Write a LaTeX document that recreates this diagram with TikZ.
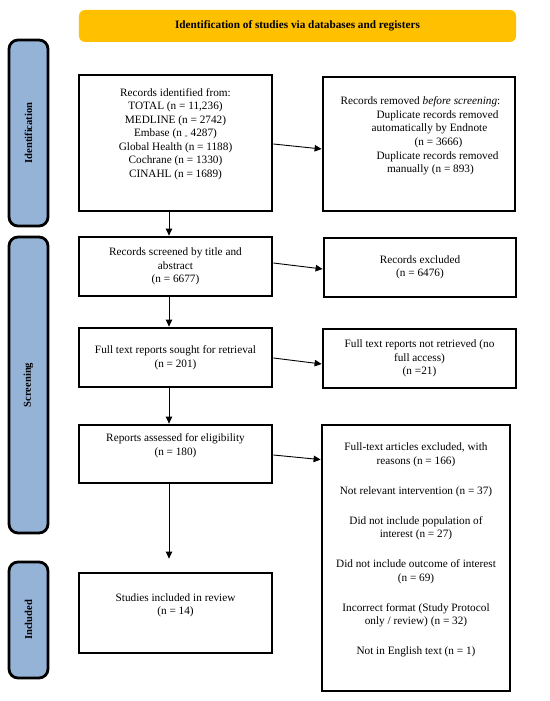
\documentclass[tikz,border=0pt]{standalone}
\usepackage{fontspec}
\setmainfont{Liberation Serif}
\usetikzlibrary{arrows.meta}
\definecolor{titlegold}{HTML}{FFC000}
\definecolor{phaseblue}{HTML}{95B3D7}
\newcommand\bodyfont{\fontsize{11.3}{13.6}\selectfont}
\newcommand\phasefont{\fontsize{10.6}{12}\selectfont\bfseries}
\begin{document}
\begin{tikzpicture}[x=1bp,y=-1bp,
  box/.style={draw, line width=2.8bp, inner sep=0pt, align=center, font=\bodyfont},
  txt/.style={inner sep=0pt, align=center, font=\bodyfont},
  phasebar/.style={draw, line width=2.8bp, fill=phaseblue, rounded corners=9bp, rotate=90,
    minimum height=39bp, inner sep=0pt, font=\phasefont},
  arr/.style={-{Triangle[length=7bp,width=6.5bp]}, line width=0.9bp}]
\useasboundingbox (0,0) rectangle (550,701);

% title bar
\node[fill=titlegold, rounded corners=6bp, minimum width=437bp, minimum height=32bp,
  inner sep=0pt, font=\fontsize{11.3}{13.6}\selectfont\bfseries] (title) at (297.5,26)
  {Identification of studies via databases and registers};

% phase bars
\node[phasebar, minimum width=186bp] (pid) at (28.5,133) {Identification};
\node[phasebar, minimum width=296bp] (psc) at (28.5,385) {Screening};
\node[phasebar, minimum width=116bp] (pin) at (28.5,620) {Included};

% boxes
\node[box, minimum width=193bp, minimum height=136bp] (b1) at (175.5,143) {};
\node[txt] (t1) at (175.5,134) {Records identified from:\\ TOTAL (n = 11,236)\\ MEDLINE (n = 2742)\\
  Embase (n \raisebox{-1.5pt}{\scalebox{0.5}{=}} 4287)\\ Global Health (n = 1188)\\ Cochrane (n = 1330)\\ CINAHL (n = 1689)};

\node[box, minimum width=192bp, minimum height=134bp] (b2) at (419,144) {};
\node[txt] (t2) at (420.5,136) {Records removed \textit{before screening}:\\
  \hspace*{34bp}Duplicate records removed\\
  \hspace*{18bp}automatically by Endnote\\
  \hspace*{36bp}(n = 3666)\\
  \hspace*{34bp}Duplicate records removed\\
  \hspace*{20bp}manually (n = 893)};

\node[box, minimum width=193bp, minimum height=59bp] (b3) at (175.5,266.5)
  {Records screened by title and\\ abstract\\ (n = 6677)};
\node[box, minimum width=192bp, minimum height=59bp] (b4) at (420,267.5)
  {Records excluded\\ (n = 6476)};

\node[box, minimum width=193bp, minimum height=59bp] (b5) at (175.5,357.5)
  {Full text reports sought for retrieval\\ (n = 201)};
\node[box, minimum width=193bp, minimum height=59bp] (b6) at (419.5,358.5)
  {Full text reports not retrieved (no\\ full access)\\ (n =21)};

\node[box, minimum width=193bp, minimum height=58bp] (b7) at (175.5,454) {};
\node[txt] (t7) at (175.5,446) {Reports assessed for eligibility\\ (n = 180)};

\node[box, minimum width=188bp, minimum height=266bp] (b8) at (416,558) {};
\node[txt] (t8) at (416,550) {Full-text articles excluded, with\\ reasons (n = 166)\\[16.5bp]
  Not relevant intervention (n = 37)\\[16.5bp]
  Did not include population of\\ interest (n = 27)\\[16.5bp]
  Did not include outcome of interest\\ (n = 69)\\[16.5bp]
  Incorrect format (Study Protocol\\ only / review) (n = 32)\\[16.5bp]
  Not in English text (n = 1)};

\node[box, minimum width=193bp, minimum height=80bp] (b9) at (175.5,613) {};
\node[txt] (t9) at (175.5,605.5) {Studies included in review\\ (n = 14)};

% arrows
\draw[arr] ([xshift=-6.5bp]b1.south) -- ([xshift=-6.5bp]b3.north);
\draw[arr] ([xshift=-6.5bp]b3.south) -- ([xshift=-6.5bp]b5.north);
\draw[arr] ([xshift=-6.5bp]b5.south) -- ([xshift=-6.5bp]b7.north);
\draw[arr, shorten >=13bp] ([xshift=-6.5bp]b7.south) -- ([xshift=-6.5bp]b9.north);

\draw[arr] ([yshift=-1bp]b1.east) -- ([yshift=-5bp]b2.west);
\draw[arr] ([yshift=3.5bp]b3.east) -- ([yshift=-1.5bp]b4.west);
\draw[arr] ([yshift=-0.5bp]b5.east) -- ([yshift=-5.5bp]b6.west);
\draw[arr] ([yshift=-1bp]b7.east) -- ([yshift=-36bp]b8.north west);
\end{tikzpicture}
\end{document}
